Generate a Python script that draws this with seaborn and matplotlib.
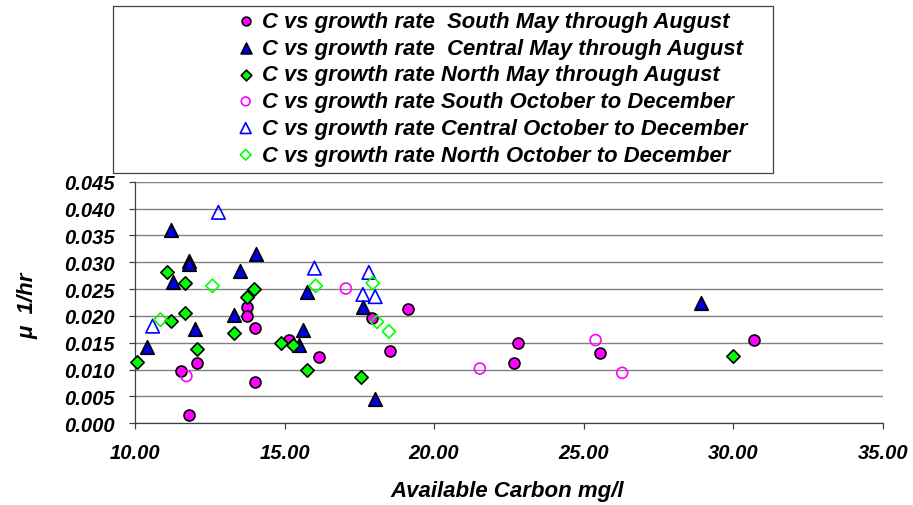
import numpy as np
import pandas as pd
import seaborn as sns
from matplotlib import pyplot as plt
from matplotlib.patches import Rectangle
from matplotlib.ticker import FormatStrFormatter

sns.set_theme(style="white")
plt.rcParams["font.family"] = ["Liberation Sans", "DejaVu Sans"]
plt.rcParams["font.weight"] = "bold"
plt.rcParams["font.style"] = "italic"
plt.rcParams["text.color"] = "black"

# values (available carbon mg/l, growth rate 1/hr)
south_may_x = [13.75, 13.75, 14.02, 12.08, 11.53, 14.02, 11.82, 17.92,
               19.12, 15.16, 16.16, 18.52, 22.80, 22.67, 25.56, 30.69]
south_may_y = [0.0217, 0.0199, 0.0177, 0.0113, 0.0098, 0.0076, 0.0016, 0.0196,
               0.0213, 0.0156, 0.0124, 0.0135, 0.0150, 0.0113, 0.0131, 0.0155]

central_may_x = [11.19, 11.80, 11.80, 11.26, 13.52, 14.05, 13.32, 11.99,
                 10.39, 15.76, 17.63, 15.61, 15.49, 18.02, 28.93]
central_may_y = [0.0360, 0.0303, 0.0297, 0.0263, 0.0284, 0.0315, 0.0202, 0.0176,
                 0.0143, 0.0244, 0.0217, 0.0174, 0.0146, 0.0046, 0.0225]

north_may_x = [11.06, 11.66, 13.99, 13.73, 13.32, 11.19, 11.66, 10.06,
               12.07, 14.87, 15.27, 15.76, 17.55, 30.00]
north_may_y = [0.0282, 0.0261, 0.0250, 0.0235, 0.0168, 0.0190, 0.0205, 0.0115,
               0.0138, 0.0149, 0.0145, 0.0100, 0.0086, 0.0126]

south_oct_x = [11.72, 17.05, 21.53, 25.40, 26.29]
south_oct_y = [0.0088, 0.0251, 0.0102, 0.0155, 0.0094]

central_oct_x = [12.79, 10.59, 16.00, 17.82, 17.62, 18.03]
central_oct_y = [0.0393, 0.0181, 0.0289, 0.0281, 0.0240, 0.0236]

north_oct_x = [12.59, 10.85, 16.04, 17.95, 18.09, 18.49]
north_oct_y = [0.0256, 0.0193, 0.0256, 0.0261, 0.0189, 0.0171]

labels = [
    "C vs growth rate  South May through August",
    "C vs growth rate  Central May through August",
    "C vs growth rate North May through August",
    "C vs growth rate South October to December",
    "C vs growth rate Central October to December",
    "C vs growth rate North October to December",
]

x_ticks = [10, 15, 20, 25, 30, 35]
y_ticks = np.arange(0, 0.0451, 0.005)

frames = []
for lab, xs, ys in zip(labels,
                       [south_may_x, central_may_x, north_may_x,
                        south_oct_x, central_oct_x, north_oct_x],
                       [south_may_y, central_may_y, north_may_y,
                        south_oct_y, central_oct_y, north_oct_y]):
    frames.append(pd.DataFrame({"carbon": xs, "mu": ys, "series": lab}))
df = pd.concat(frames, ignore_index=True)

# marker, face, edge, size
styles = {
    labels[0]: ("o", "#FF00FF", "black", 62),
    labels[1]: ("^", "#0000E0", "black", 95),
    labels[2]: ("D", "#00FF00", "black", 46),
    labels[3]: ("o", "none", "#FF00FF", 62),
    labels[4]: ("^", "none", "#0000FF", 95),
    labels[5]: ("D", "none", "#00FF00", 46),
}

fig = plt.figure(figsize=(9.13, 5.06), dpi=100)
ax = fig.add_axes([135 / 913, 1 - 424.3 / 506, 747.7 / 913, 241.6 / 506])

for lab in labels:
    marker, face, edge, size = styles[lab]
    sns.scatterplot(
        data=df[df["series"] == lab], x="carbon", y="mu",
        marker=marker, s=size, color=edge, facecolor=face, edgecolor=edge,
        linewidth=1.2, label=lab, ax=ax, zorder=3, clip_on=False
    )

ax.set_xlim(10, 35)
ax.set_ylim(0, 0.045)
ax.set_xticks(x_ticks)
ax.set_yticks(y_ticks)
ax.xaxis.set_major_formatter(FormatStrFormatter("%.2f"))
ax.yaxis.set_major_formatter(FormatStrFormatter("%.3f"))
ax.yaxis.grid(True, color="#808080", lw=1.0)
ax.xaxis.grid(False)
ax.set_axisbelow(True)
for side in ["top", "right"]:
    ax.spines[side].set_visible(False)
for side in ["left", "bottom"]:
    ax.spines[side].set_color("#404040")
    ax.spines[side].set_linewidth(0.9)
ax.tick_params(axis="both", direction="out", length=4.5, width=0.9,
               color="#404040", labelsize=14.5, labelcolor="black",
               bottom=True, left=True)
ax.tick_params(axis="y", pad=10)
ax.tick_params(axis="x", pad=10)
ax.set_xlabel("")
ax.set_ylabel("")

fig.text(507 / 913, 1 - 496.7 / 506, "Available Carbon mg/l", ha="center",
         va="baseline", fontsize=16)
fig.text(28 / 913, 1 - 306 / 506, "μ  1/hr", ha="center", va="center",
         rotation=90, fontsize=16)

# legend box
fig.add_artist(Rectangle((112.7 / 913, 1 - 174 / 506), (773 - 112.7) / 913,
                         (174 - 6.7) / 506, transform=fig.transFigure,
                         fill=False, edgecolor="#404040", lw=0.9))
ax.legend(loc="upper left", bbox_to_anchor=(234.7 / 913, 1 - 12 / 506),
          bbox_transform=fig.transFigure, frameon=False, borderpad=0,
          borderaxespad=0, handlelength=1.0, handletextpad=0.26,
          labelspacing=0.26, markerscale=0.8,
          prop=dict(size=15.8, weight="bold", style="italic"))

fig.savefig("out.png", dpi=100, facecolor="white")
